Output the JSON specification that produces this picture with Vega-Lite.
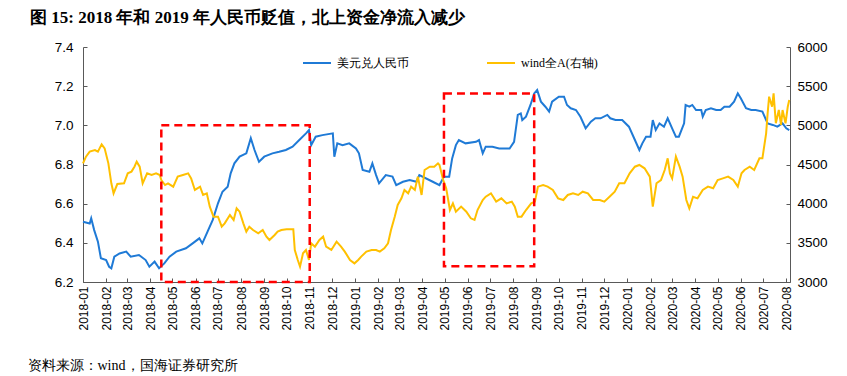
{
  "$schema": "https://vega.github.io/schema/vega-lite/v6.json",
  "width": 707,
  "height": 235,
  "autosize": {"type": "none"},
  "padding": {"left": 83, "top": 47, "right": 57, "bottom": 94},
  "background": "white",
  "config": {
    "view": {"stroke": null},
    "font": "Liberation Sans",
    "axis": {"grid": false, "domainColor": "#595959", "tickColor": "#595959", "labelColor": "#000000", "labelFont": "Liberation Sans"}
  },
  "title": {
    "text": "图 15:  2018 年和 2019 年人民币贬值，北上资金净流入减少",
    "anchor": "start",
    "frame": "group",
    "dx": -53,
    "offset": 13,
    "font": "Liberation Serif",
    "fontSize": 17,
    "fontWeight": "bold",
    "color": "#000000"
  },
  "datasets": {
    "usd": [
      {"date":"2018-01-01","v":6.508},{"date":"2018-01-10","v":6.499},{"date":"2018-01-12","v":6.525},{"date":"2018-01-16","v":6.465},{"date":"2018-01-21","v":6.406},{"date":"2018-01-25","v":6.321},{"date":"2018-02-01","v":6.312},{"date":"2018-02-05","v":6.278},{"date":"2018-02-08","v":6.270},{"date":"2018-02-12","v":6.329},{"date":"2018-02-19","v":6.346},{"date":"2018-02-28","v":6.355},{"date":"2018-03-06","v":6.329},{"date":"2018-03-17","v":6.338},{"date":"2018-03-26","v":6.312},{"date":"2018-03-31","v":6.278},{"date":"2018-04-07","v":6.304},{"date":"2018-04-13","v":6.270},{"date":"2018-04-20","v":6.295},{"date":"2018-04-27","v":6.329},{"date":"2018-05-06","v":6.355},{"date":"2018-05-19","v":6.372},{"date":"2018-05-28","v":6.397},{"date":"2018-06-06","v":6.423},{"date":"2018-06-10","v":6.397},{"date":"2018-06-17","v":6.457},{"date":"2018-06-24","v":6.517},{"date":"2018-07-01","v":6.602},{"date":"2018-07-07","v":6.661},{"date":"2018-07-14","v":6.687},{"date":"2018-07-18","v":6.755},{"date":"2018-07-23","v":6.806},{"date":"2018-07-30","v":6.840},{"date":"2018-08-08","v":6.857},{"date":"2018-08-14","v":6.934},{"date":"2018-08-19","v":6.874},{"date":"2018-08-25","v":6.814},{"date":"2018-09-01","v":6.840},{"date":"2018-09-12","v":6.857},{"date":"2018-09-21","v":6.865},{"date":"2018-09-30","v":6.874},{"date":"2018-10-09","v":6.891},{"date":"2018-10-18","v":6.925},{"date":"2018-10-27","v":6.959},{"date":"2018-10-31","v":6.976},{"date":"2018-11-03","v":6.899},{"date":"2018-11-09","v":6.942},{"date":"2018-11-18","v":6.950},{"date":"2018-12-02","v":6.959},{"date":"2018-12-04","v":6.840},{"date":"2018-12-08","v":6.908},{"date":"2018-12-15","v":6.899},{"date":"2018-12-24","v":6.908},{"date":"2019-01-02","v":6.882},{"date":"2019-01-06","v":6.857},{"date":"2019-01-11","v":6.772},{"date":"2019-01-20","v":6.763},{"date":"2019-01-24","v":6.806},{"date":"2019-01-29","v":6.746},{"date":"2019-02-02","v":6.704},{"date":"2019-02-11","v":6.746},{"date":"2019-02-20","v":6.738},{"date":"2019-02-25","v":6.695},{"date":"2019-03-06","v":6.712},{"date":"2019-03-15","v":6.721},{"date":"2019-03-24","v":6.712},{"date":"2019-03-28","v":6.746},{"date":"2019-04-15","v":6.712},{"date":"2019-04-24","v":6.695},{"date":"2019-04-30","v":6.738},{"date":"2019-05-07","v":6.738},{"date":"2019-05-11","v":6.831},{"date":"2019-05-16","v":6.899},{"date":"2019-05-20","v":6.925},{"date":"2019-05-29","v":6.908},{"date":"2019-06-12","v":6.916},{"date":"2019-06-16","v":6.925},{"date":"2019-06-21","v":6.857},{"date":"2019-06-25","v":6.891},{"date":"2019-07-04","v":6.891},{"date":"2019-07-13","v":6.882},{"date":"2019-07-27","v":6.882},{"date":"2019-08-02","v":6.916},{"date":"2019-08-07","v":7.053},{"date":"2019-08-11","v":7.061},{"date":"2019-08-13","v":7.027},{"date":"2019-08-18","v":7.044},{"date":"2019-08-24","v":7.104},{"date":"2019-08-29","v":7.163},{"date":"2019-09-02","v":7.180},{"date":"2019-09-07","v":7.121},{"date":"2019-09-13","v":7.095},{"date":"2019-09-18","v":7.070},{"date":"2019-09-22","v":7.121},{"date":"2019-10-01","v":7.146},{"date":"2019-10-08","v":7.146},{"date":"2019-10-12","v":7.104},{"date":"2019-10-17","v":7.087},{"date":"2019-10-24","v":7.078},{"date":"2019-10-30","v":7.044},{"date":"2019-11-06","v":6.985},{"date":"2019-11-13","v":7.019},{"date":"2019-11-19","v":7.036},{"date":"2019-11-26","v":7.036},{"date":"2019-12-05","v":7.053},{"date":"2019-12-09","v":7.036},{"date":"2019-12-16","v":7.027},{"date":"2019-12-25","v":7.027},{"date":"2020-01-03","v":6.993},{"date":"2020-01-10","v":6.934},{"date":"2020-01-17","v":6.874},{"date":"2020-01-21","v":6.908},{"date":"2020-01-26","v":6.942},{"date":"2020-02-01","v":6.942},{"date":"2020-02-04","v":7.027},{"date":"2020-02-08","v":6.976},{"date":"2020-02-13","v":7.010},{"date":"2020-02-19","v":6.993},{"date":"2020-02-24","v":7.036},{"date":"2020-03-02","v":6.976},{"date":"2020-03-06","v":6.942},{"date":"2020-03-10","v":6.942},{"date":"2020-03-17","v":7.010},{"date":"2020-03-19","v":7.104},{"date":"2020-03-24","v":7.095},{"date":"2020-03-28","v":7.104},{"date":"2020-04-02","v":7.078},{"date":"2020-04-09","v":7.078},{"date":"2020-04-11","v":7.044},{"date":"2020-04-15","v":7.078},{"date":"2020-04-22","v":7.087},{"date":"2020-04-29","v":7.078},{"date":"2020-05-05","v":7.078},{"date":"2020-05-10","v":7.095},{"date":"2020-05-17","v":7.095},{"date":"2020-05-23","v":7.121},{"date":"2020-05-28","v":7.163},{"date":"2020-06-01","v":7.138},{"date":"2020-06-08","v":7.087},{"date":"2020-06-15","v":7.078},{"date":"2020-06-21","v":7.078},{"date":"2020-06-30","v":7.070},{"date":"2020-07-07","v":7.010},{"date":"2020-07-14","v":7.002},{"date":"2020-07-20","v":6.993},{"date":"2020-07-27","v":7.010},{"date":"2020-08-01","v":6.985},{"date":"2020-08-05","v":6.976}
    ],
    "wind": [
      {"date":"2018-01-01","v":4515},{"date":"2018-01-05","v":4600},{"date":"2018-01-10","v":4664},{"date":"2018-01-17","v":4685},{"date":"2018-01-21","v":4664},{"date":"2018-01-26","v":4758},{"date":"2018-01-30","v":4706},{"date":"2018-02-04","v":4515},{"date":"2018-02-08","v":4260},{"date":"2018-02-11","v":4132},{"date":"2018-02-16","v":4251},{"date":"2018-02-25","v":4260},{"date":"2018-03-02","v":4387},{"date":"2018-03-07","v":4409},{"date":"2018-03-11","v":4472},{"date":"2018-03-14","v":4536},{"date":"2018-03-18","v":4472},{"date":"2018-03-22","v":4260},{"date":"2018-03-28","v":4387},{"date":"2018-04-03","v":4366},{"date":"2018-04-09","v":4387},{"date":"2018-04-14","v":4366},{"date":"2018-04-16","v":4302},{"date":"2018-04-21","v":4238},{"date":"2018-04-25","v":4260},{"date":"2018-05-02","v":4217},{"date":"2018-05-08","v":4345},{"date":"2018-05-15","v":4366},{"date":"2018-05-22","v":4387},{"date":"2018-05-26","v":4323},{"date":"2018-05-31","v":4175},{"date":"2018-06-07","v":4217},{"date":"2018-06-11","v":4111},{"date":"2018-06-16","v":4132},{"date":"2018-06-20","v":3962},{"date":"2018-06-25","v":3834},{"date":"2018-07-01","v":3834},{"date":"2018-07-06","v":3706},{"date":"2018-07-10","v":3749},{"date":"2018-07-17","v":3855},{"date":"2018-07-22","v":3792},{"date":"2018-07-26","v":3940},{"date":"2018-07-30","v":3898},{"date":"2018-08-04","v":3749},{"date":"2018-08-08","v":3643},{"date":"2018-08-12","v":3706},{"date":"2018-08-17","v":3664},{"date":"2018-08-24","v":3621},{"date":"2018-08-30","v":3664},{"date":"2018-09-04","v":3579},{"date":"2018-09-08","v":3536},{"date":"2018-09-15","v":3600},{"date":"2018-09-19","v":3643},{"date":"2018-09-24","v":3664},{"date":"2018-10-01","v":3672},{"date":"2018-10-10","v":3672},{"date":"2018-10-12","v":3409},{"date":"2018-10-16","v":3281},{"date":"2018-10-19","v":3196},{"date":"2018-10-23","v":3366},{"date":"2018-10-27","v":3409},{"date":"2018-10-31","v":3281},{"date":"2018-11-03","v":3494},{"date":"2018-11-08","v":3451},{"date":"2018-11-14","v":3536},{"date":"2018-11-19","v":3579},{"date":"2018-11-23","v":3451},{"date":"2018-11-30","v":3409},{"date":"2018-12-07","v":3515},{"date":"2018-12-13","v":3451},{"date":"2018-12-18","v":3388},{"date":"2018-12-25","v":3281},{"date":"2018-12-31","v":3238},{"date":"2019-01-05","v":3281},{"date":"2019-01-09","v":3324},{"date":"2019-01-16","v":3388},{"date":"2019-01-23","v":3409},{"date":"2019-01-29","v":3409},{"date":"2019-02-03","v":3388},{"date":"2019-02-09","v":3430},{"date":"2019-02-14","v":3494},{"date":"2019-02-18","v":3664},{"date":"2019-02-23","v":3834},{"date":"2019-02-27","v":3983},{"date":"2019-03-04","v":4068},{"date":"2019-03-08","v":4175},{"date":"2019-03-13","v":4132},{"date":"2019-03-17","v":4217},{"date":"2019-03-22","v":4175},{"date":"2019-03-26","v":4345},{"date":"2019-03-31","v":4111},{"date":"2019-04-04","v":4430},{"date":"2019-04-11","v":4472},{"date":"2019-04-17","v":4472},{"date":"2019-04-22","v":4515},{"date":"2019-04-24","v":4494},{"date":"2019-04-29","v":4302},{"date":"2019-05-03","v":4196},{"date":"2019-05-08","v":3919},{"date":"2019-05-12","v":4004},{"date":"2019-05-16","v":3898},{"date":"2019-05-23","v":3962},{"date":"2019-05-30","v":3898},{"date":"2019-06-05","v":3813},{"date":"2019-06-10","v":3792},{"date":"2019-06-14","v":3919},{"date":"2019-06-21","v":4047},{"date":"2019-06-25","v":4089},{"date":"2019-07-02","v":4132},{"date":"2019-07-09","v":4026},{"date":"2019-07-16","v":4068},{"date":"2019-07-23","v":4004},{"date":"2019-07-30","v":4026},{"date":"2019-08-03","v":3962},{"date":"2019-08-07","v":3834},{"date":"2019-08-12","v":3834},{"date":"2019-08-18","v":3919},{"date":"2019-08-25","v":4004},{"date":"2019-08-30","v":4026},{"date":"2019-09-03","v":4217},{"date":"2019-09-10","v":4238},{"date":"2019-09-16","v":4217},{"date":"2019-09-23","v":4175},{"date":"2019-09-30","v":4068},{"date":"2019-10-07","v":4047},{"date":"2019-10-13","v":4111},{"date":"2019-10-20","v":4132},{"date":"2019-10-27","v":4111},{"date":"2019-11-02","v":4153},{"date":"2019-11-09","v":4132},{"date":"2019-11-16","v":4047},{"date":"2019-11-25","v":4047},{"date":"2019-12-01","v":4026},{"date":"2019-12-08","v":4089},{"date":"2019-12-15","v":4153},{"date":"2019-12-21","v":4260},{"date":"2019-12-28","v":4260},{"date":"2020-01-04","v":4387},{"date":"2020-01-11","v":4472},{"date":"2020-01-17","v":4494},{"date":"2020-01-24","v":4451},{"date":"2020-01-31","v":4345},{"date":"2020-02-04","v":3962},{"date":"2020-02-09","v":4260},{"date":"2020-02-15","v":4302},{"date":"2020-02-20","v":4430},{"date":"2020-02-24","v":4579},{"date":"2020-02-27","v":4387},{"date":"2020-03-01","v":4323},{"date":"2020-03-06","v":4600},{"date":"2020-03-11","v":4472},{"date":"2020-03-15","v":4345},{"date":"2020-03-20","v":4047},{"date":"2020-03-24","v":3940},{"date":"2020-03-29","v":4089},{"date":"2020-04-04","v":4068},{"date":"2020-04-11","v":4175},{"date":"2020-04-18","v":4217},{"date":"2020-04-25","v":4196},{"date":"2020-05-01","v":4302},{"date":"2020-05-08","v":4323},{"date":"2020-05-15","v":4345},{"date":"2020-05-22","v":4302},{"date":"2020-05-28","v":4217},{"date":"2020-06-02","v":4387},{"date":"2020-06-06","v":4430},{"date":"2020-06-13","v":4472},{"date":"2020-06-19","v":4430},{"date":"2020-06-26","v":4579},{"date":"2020-06-30","v":4579},{"date":"2020-07-05","v":4898},{"date":"2020-07-07","v":5153},{"date":"2020-07-09","v":5366},{"date":"2020-07-13","v":5238},{"date":"2020-07-15","v":5408},{"date":"2020-07-18","v":5026},{"date":"2020-07-22","v":5196},{"date":"2020-07-25","v":5004},{"date":"2020-07-27","v":5196},{"date":"2020-07-31","v":5026},{"date":"2020-08-03","v":5238},{"date":"2020-08-05","v":5323}
    ],
    "boxes": [
      {"date":"2018-04-16","date2":"2018-11-01","lo":6.2,"hi":7.0},
      {"date":"2019-04-30","date2":"2019-08-29","lo":6.28,"hi":7.163}
    ]
  },
  "encoding": {
    "x": {
      "field": "date",
      "type": "temporal",
      "scale": {"domain": [{"year": 2018, "month": 1, "date": 1}, {"year": 2020, "month": 8, "date": 6}]},
      "axis": {
        "format": "%Y-%m",
        "tickCount": {"interval": "month", "step": 1},
        "labelAngle": 270,
        "labelAlign": "right",
        "labelBaseline": "middle",
        "labelFontSize": 12,
        "labelPadding": 8,
        "labelOverlap": false,
        "labelFlush": false,
        "tickSize": -4,
        "title": "资料来源：wind，国海证券研究所",
        "titleFont": "Liberation Serif",
        "titleFontWeight": "normal",
        "titleFontSize": 14,
        "titleColor": "#000000",
        "titleAlign": "left",
        "titleBaseline": "middle",
        "titleX": -56,
        "titleY": 83
      }
    }
  },
  "layer": [
    {
      "data": {"name": "usd"},
      "mark": {"type": "line", "strokeWidth": 2},
      "encoding": {
        "y": {
          "field": "v",
          "type": "quantitative",
          "scale": {"domain": [6.2, 7.4], "zero": false, "nice": false},
          "axis": {"orient": "left", "title": null, "values": [6.2, 6.4, 6.6, 6.8, 7.0, 7.2, 7.4], "format": ".1f", "labelFontSize": 13.5, "labelPadding": 14, "tickSize": -4}
        },
        "color": {
          "datum": "美元兑人民币",
          "type": "nominal",
          "scale": {"domain": ["美元兑人民币", "wind全A(右轴)"], "range": ["#1F7AD6", "#FFC000"]},
          "legend": {
            "title": null,
            "orient": "none",
            "legendX": 219,
            "legendY": 1,
            "direction": "horizontal",
            "symbolType": "stroke",
            "symbolSize": 784,
            "symbolStrokeWidth": 2,
            "labelFontSize": 12,
            "labelFont": "Liberation Serif",
            "labelColor": "#000000",
            "labelOffset": 5,
            "columnPadding": 74
          }
        }
      }
    },
    {
      "data": {"name": "wind"},
      "mark": {"type": "line", "strokeWidth": 2},
      "encoding": {
        "y": {
          "field": "v",
          "type": "quantitative",
          "scale": {"domain": [3000, 6000], "zero": false, "nice": false},
          "axis": {"orient": "right", "title": null, "values": [3000, 3500, 4000, 4500, 5000, 5500, 6000], "format": "d", "labelFontSize": 13.5, "labelPadding": 11, "tickSize": -4}
        },
        "color": {"datum": "wind全A(右轴)", "type": "nominal"}
      }
    },
    {
      "data": {"name": "boxes"},
      "mark": {"type": "rect", "filled": false, "stroke": "#FF0000", "strokeWidth": 2.5, "strokeDash": [8, 5]},
      "encoding": {
        "x2": {"field": "date2"},
        "y": {"field": "lo", "type": "quantitative", "scale": {"domain": [6.2, 7.4], "zero": false, "nice": false}, "axis": null},
        "y2": {"field": "hi"}
      }
    }
  ],
  "resolve": {"scale": {"y": "independent"}}
}
